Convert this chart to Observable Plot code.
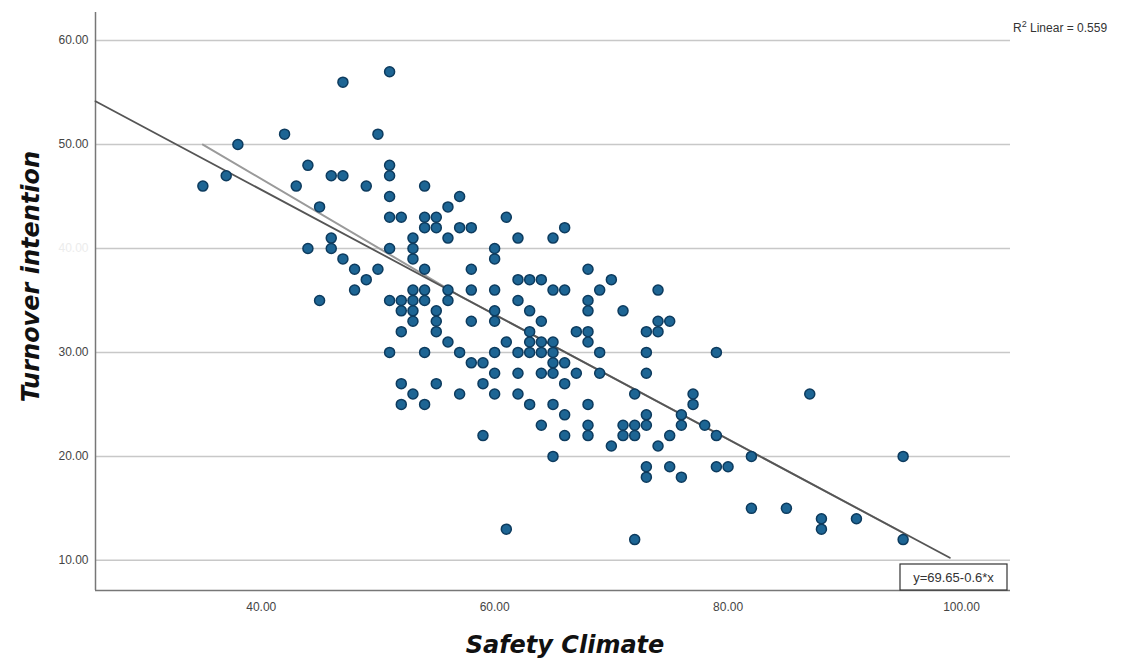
<!DOCTYPE html>
<html>
<head>
<meta charset="utf-8">
<script src="https://cdn.jsdelivr.net/npm/d3@7"></script>
<script src="https://cdn.jsdelivr.net/npm/@observablehq/plot@0.6"></script>
<style>
  html, body { margin: 0; padding: 0; background: #fff; }
  #chart { position: relative; width: 1130px; height: 661px; }
</style>
</head>
<body>
<div id="chart"></div>
<script>
// Safety Climate (x) and Turnover intention (y) scores
const safetyClimate = [
  35,37,38,42,43,44,44,45,45,46,46,46,47,47,47,48,48,49,49,50,50,
  51,51,51,51,51,51,51,51,
  52,52,52,52,52,52,
  53,53,53,53,53,53,53,53,
  54,54,54,54,54,54,54,54,
  55,55,55,55,55,55,
  56,56,56,56,56,
  57,57,57,57,
  58,58,58,58,58,
  59,59,59,
  60,60,60,60,60,60,60,60,
  61,61,61,
  62,62,62,62,62,62,
  63,63,63,63,63,63,
  64,64,64,64,64,64,
  65,65,65,65,65,65,65,65,
  66,66,66,66,66,66,
  67,67,
  68,68,68,68,68,68,68,68,
  69,69,69,
  70,70,
  71,71,71,
  72,72,72,72,
  73,73,73,73,73,73,73,
  74,74,74,74,
  75,75,75,
  76,76,76,
  77,77,
  78,
  79,79,79,
  80,
  82,82,
  85,
  87,
  88,88,
  91,
  95,95
];
const turnoverIntention = [
  46,47,50,51,46,48,40,44,35,47,41,40,56,47,39,38,36,46,37,51,38,
  57,48,47,45,43,40,35,30,
  43,35,34,32,27,25,
  41,40,39,36,35,34,33,26,
  46,43,42,38,36,35,30,25,
  43,42,34,33,32,27,
  44,41,36,35,31,
  45,42,30,26,
  42,38,36,33,29,
  29,27,22,
  40,39,36,34,33,30,28,26,
  43,31,13,
  41,37,35,30,28,26,
  37,34,32,31,30,25,
  37,33,31,30,28,23,
  41,36,31,30,29,28,25,20,
  42,36,29,27,24,22,
  32,28,
  38,35,34,32,31,25,23,22,
  36,30,28,
  37,21,
  34,23,22,
  26,23,22,12,
  32,30,28,24,23,19,18,
  36,33,32,21,
  33,22,19,
  24,23,18,
  26,25,
  23,
  30,22,19,
  19,
  20,15,
  15,
  26,
  14,13,
  14,
  20,12
];
// Linear fit y = 69.65 - 0.6*x, drawn over the x range
const fitX = [25.8, 99];
const fitIntercept = 69.65;
const fitSlope = -0.6;
// second (lighter) fit line drawn over the data range
const fit2X = [35, 57, 95];
const fit2Y = [50, 35.45, 12.65];

const yTicks = [10, 20, 30, 40, 50, 60];
const xTicks = [40, 60, 80, 100];
const xDomain = [25.8, 104.2];
const yDomain = [7.1, 62.7];
const fitLabel = "y=69.65-0.6*x";
const r2Label = "0.559";

const points = safetyClimate.map((x, i) => ({x, y: turnoverIntention[i]}));
const fitLine = fitX.map(x => ({x, y: fitIntercept + fitSlope * x}));
const fit2Line = fit2X.map((x, i) => ({x, y: fit2Y[i]}));
const fmt = d => d.toFixed(2);
const titleFont = "'DejaVu Sans', sans-serif";

const plot = Plot.plot({
  width: 1130,
  height: 661,
  marginLeft: 95,
  marginRight: 120,
  marginTop: 12,
  marginBottom: 71,
  style: {fontFamily: "'Liberation Sans', Arial, sans-serif", fontSize: "12px", color: "#444", background: "#fff"},
  x: {domain: xDomain},
  y: {domain: yDomain},
  marks: [
    Plot.gridY(yTicks, {stroke: "#c8c8c8", strokeOpacity: 1, strokeWidth: 1.5}),
    Plot.axisX(xTicks, {tickSize: 0, tickPadding: 12, label: null, tickFormat: fmt, fill: "#444"}),
    Plot.axisY(yTicks, {tickSize: 0, tickPadding: 7, label: null, tickFormat: fmt,
      fill: d => d === 40 ? "#ececec" : "#444"}),
    Plot.ruleX([xDomain[0]], {stroke: "#777", strokeWidth: 1.5}),
    Plot.ruleY([yDomain[0]], {stroke: "#777", strokeWidth: 1.5}),
    Plot.line(fit2Line, {x: "x", y: "y", stroke: "#9a9a9a", strokeWidth: 2}),
    Plot.line(fitLine, {x: "x", y: "y", stroke: "#555", strokeWidth: 1.8}),
    Plot.dot(points, {x: "x", y: "y", r: 5, fill: "#1d6594", stroke: "#0d3b5e", strokeWidth: 1.5}),
    Plot.text(["Safety Climate"], {frameAnchor: "bottom", dx: 12, dy: 62, fontSize: 24, fontWeight: 700,
      fontStyle: "italic", fill: "#111", fontFamily: titleFont, textAnchor: "middle"}),
    Plot.text(["Turnover intention"], {frameAnchor: "left", dx: -64, dy: -25, rotate: -90, fontSize: 24,
      fontWeight: 700, fontStyle: "italic", fill: "#111", fontFamily: titleFont, textAnchor: "middle"})
  ]
});

const svg = d3.select(plot);
// equation box at bottom-right of the plot
svg.append("rect").attr("x", 900).attr("y", 564).attr("width", 107).attr("height", 26)
  .attr("fill", "#fff").attr("stroke", "#333").attr("stroke-width", 1.2);
svg.append("text").attr("x", 953.5).attr("y", 582).attr("text-anchor", "middle")
  .attr("font-family", "'Liberation Sans', Arial, sans-serif").attr("font-size", 13).attr("fill", "#333")
  .text(fitLabel);
// R² label at top right
const r2 = svg.append("text").attr("x", 1013).attr("y", 32).attr("text-anchor", "start")
  .attr("font-family", "'Liberation Sans', Arial, sans-serif").attr("font-size", 12).attr("fill", "#333");
r2.append("tspan").text("R");
r2.append("tspan").attr("dy", -5).attr("font-size", 9).text("2");
r2.append("tspan").attr("dy", 5).text(" Linear = " + r2Label);

document.getElementById("chart").appendChild(plot);
</script>
</body>
</html>
